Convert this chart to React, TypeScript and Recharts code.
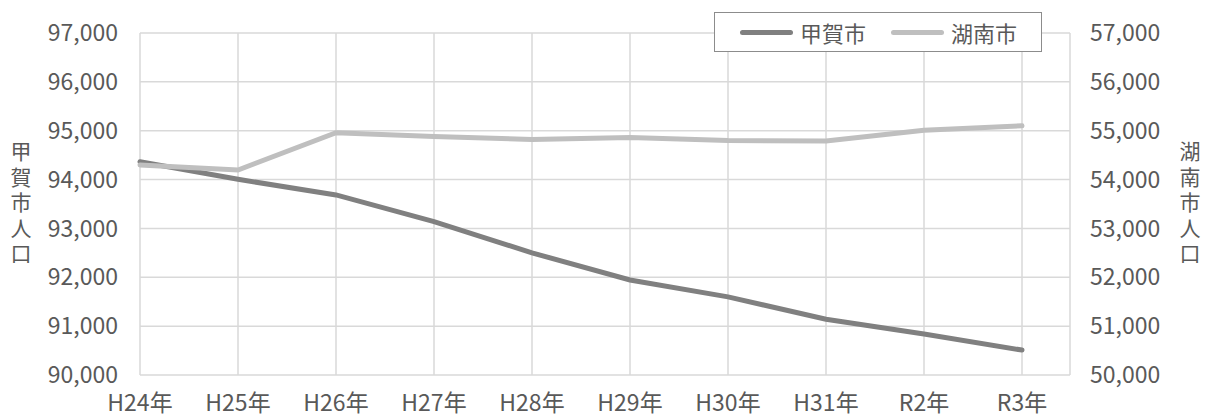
import { CartesianGrid, Line, LineChart, XAxis, YAxis } from "recharts";

const years = ["H24年", "H25年", "H26年", "H27年", "H28年", "H29年", "H30年", "H31年", "R2年", "R3年"];
const koka = [94365, 94005, 93685, 93140, 92500, 91945, 91600, 91140, 90840, 90510];
const konan = [54300, 54195, 54960, 54880, 54820, 54860, 54800, 54790, 55010, 55100];
const kokaTicks = [90000, 91000, 92000, 93000, 94000, 95000, 96000, 97000];
const konanTicks = [50000, 51000, 52000, 53000, 54000, 55000, 56000, 57000];
const seriesNames = ["甲賀市", "湖南市"];

const data = years.map((year, i) => ({ year, koka: koka[i], konan: konan[i] }));

const FONT = "'Liberation Sans Narrow', 'Arial Narrow', 'Noto Sans CJK JP', sans-serif";
const TEXT = "#595959";
const DARK = "#808080";
const LIGHT = "#bfbfbf";
const GRID = "#d9d9d9";
const colors = [DARK, LIGHT];

const fmt = (v: number) => v.toLocaleString("en-US");

function VerticalLabel({ text, x, y }: { text: string; x: number; y: number }) {
  return (
    <text
      x={x}
      y={y}
      fill={TEXT}
      fontSize={21}
      fontFamily={FONT}
      letterSpacing={4.5}
      style={{ writingMode: "vertical-rl" as any }}
    >
      {text}
    </text>
  );
}

function LegendBox() {
  return (
    <div
      style={{
        position: "absolute",
        left: 714,
        top: 12,
        border: "1px solid #8c8c8c",
        width: 326,
        height: 38,
        display: "flex",
        alignItems: "center",
        background: "#fff",
        fontFamily: FONT,
        fontSize: 22,
        color: TEXT,
      }}
    >
      {seriesNames.map((name, i) => (
        <div key={name} style={{ display: "flex", alignItems: "center", marginLeft: 25 }}>
          <div style={{ width: 53, height: 5, borderRadius: 3, background: colors[i], marginRight: 7 }} />
          <span>{name}</span>
        </div>
      ))}
    </div>
  );
}

export default function App() {
  return (
    <div style={{ position: "absolute", left: 0, top: 0, width: 1211, height: 418, background: "#fff" }}>
      <LineChart width={1211} height={418} data={data} margin={{ top: 33, right: 61, bottom: 0, left: 60 }}>
        <CartesianGrid yAxisId="left" stroke={GRID} strokeWidth={1.5} />
        <XAxis
          dataKey="year"
          height={43}
          padding={{ left: 0, right: 48 }}
          axisLine={false}
          tickLine={false}
          tickSize={0}
          tickMargin={20}
          interval={0}
          tick={{ fill: TEXT, fontSize: 23, fontFamily: FONT }}
        />
        <YAxis
          yAxisId="left"
          width={80}
          domain={[90000, 97000]}
          ticks={kokaTicks}
          tickFormatter={fmt}
          axisLine={false}
          tickLine={false}
          tickSize={0}
          tickMargin={22}
          tick={{ fill: TEXT, fontSize: 23, fontFamily: FONT }}
        />
        <YAxis
          yAxisId="right"
          orientation="right"
          width={80}
          domain={[50000, 57000]}
          ticks={konanTicks}
          tickFormatter={fmt}
          axisLine={false}
          tickLine={false}
          tickSize={0}
          tickMargin={20}
          tick={{ fill: TEXT, fontSize: 23, fontFamily: FONT, textAnchor: "start" }}
        />
        <Line
          yAxisId="left"
          type="linear"
          dataKey="koka"
          name={seriesNames[0]}
          stroke={DARK}
          strokeWidth={5}
          strokeLinecap="round"
          dot={false}
          activeDot={false}
          isAnimationActive={false}
        />
        <Line
          yAxisId="right"
          type="linear"
          dataKey="konan"
          name={seriesNames[1]}
          stroke={LIGHT}
          strokeWidth={5}
          strokeLinecap="round"
          dot={false}
          activeDot={false}
          isAnimationActive={false}
        />
        <VerticalLabel text="甲賀市人口" x={21} y={141} />
        <VerticalLabel text="湖南市人口" x={1190} y={141} />
      </LineChart>
      <LegendBox />
    </div>
  );
}
